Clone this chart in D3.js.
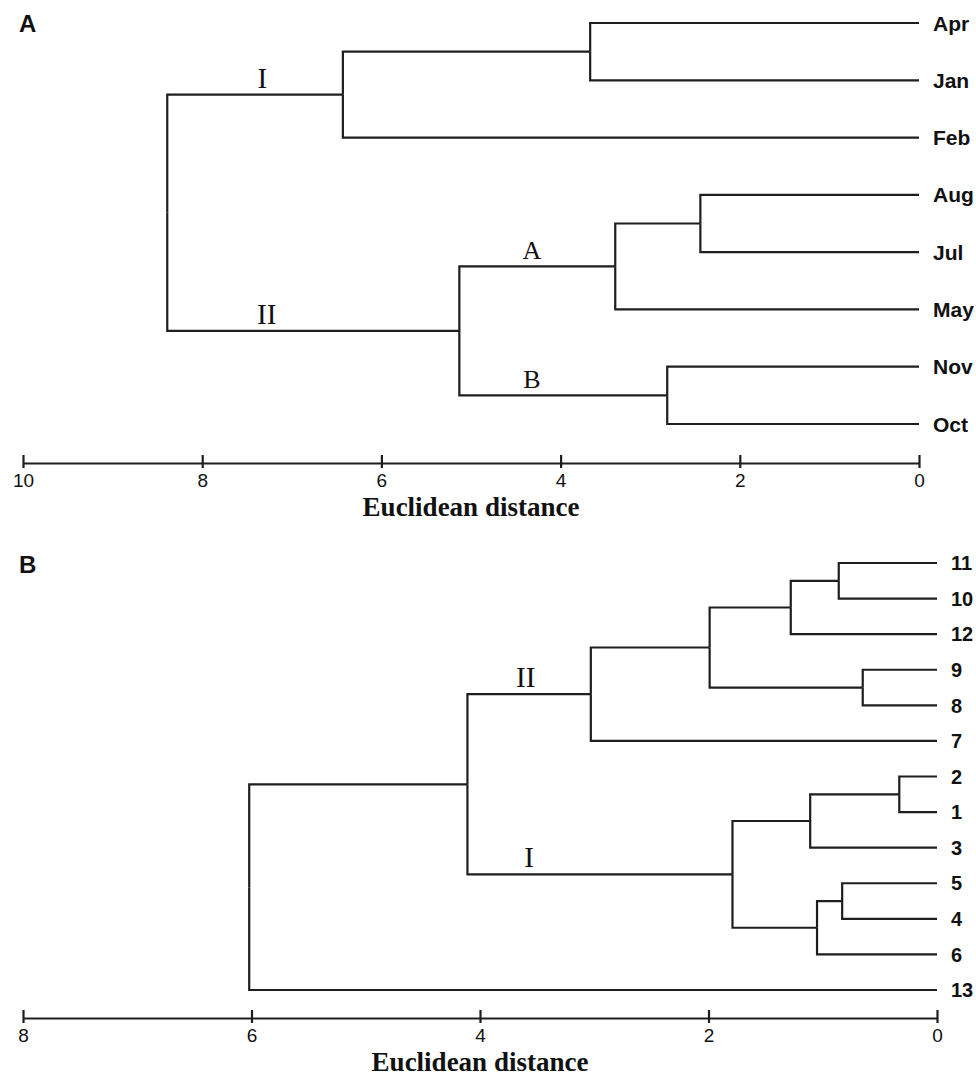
<!DOCTYPE html>
<html>
<head>
<meta charset="utf-8">
<script src="https://cdn.jsdelivr.net/npm/d3@7"></script>
<style>
	body { margin: 0; background: #fff; }
	svg { display: block; }
	.link { fill: none; stroke: #1e1e1e; stroke-width: 2.2; }
	.leaf { font-family: "Liberation Sans", Arial, sans-serif; font-weight: bold; fill: #111; }
	.panel { font-family: "Liberation Sans", Arial, sans-serif; font-weight: bold; font-size: 24px; fill: #111; }
	.group { font-family: "Liberation Serif", "Times New Roman", serif; fill: #111; }
	.xtitle { font-family: "Liberation Serif", "Times New Roman", serif; font-weight: bold; font-size: 27px; fill: #111; }
	.axis path, .axis line { stroke: #1e1e1e; stroke-width: 2.2; }
	.axis text { font-family: "Liberation Sans", Arial, sans-serif; font-size: 19px; fill: #111; }
</style>
</head>
<body>
<svg id="fig" width="976" height="1077"></svg>
<script>
// Panel A: months. Merges are [left, right, distance]; "cN" is the N-th merge.
var monthLeaves = ["Apr", "Jan", "Feb", "Aug", "Jul", "May", "Nov", "Oct"];
var monthMerges = [
	["Apr", "Jan", 3.67],
	["c0", "Feb", 6.43],
	["Aug", "Jul", 2.44],
	["c2", "May", 3.39],
	["Nov", "Oct", 2.81],
	["c3", "c4", 5.13],
	["c1", "c5", 8.39]
];
var monthGroups = [
	["I", "c1", 7.33],
	["II", "c5", 7.28],
	["A", "c3", 4.32],
	["B", "c4", 4.32]
];
var monthTicks = [10, 8, 6, 4, 2, 0];

// Panel B: sites
var siteLeaves = ["11", "10", "12", "9", "8", "7", "2", "1", "3", "5", "4", "6", "13"];
var siteMerges = [
	["11", "10", 0.86],
	["c0", "12", 1.28],
	["9", "8", 0.65],
	["c1", "c2", 1.99],
	["c3", "7", 3.03],
	["2", "1", 0.33],
	["c5", "3", 1.11],
	["5", "4", 0.83],
	["c7", "6", 1.05],
	["c6", "c8", 1.79],
	["c4", "c9", 4.11],
	["c10", "13", 6.02]
];
var siteGroups = [
	["II", "c4", 3.60],
	["I", "c9", 3.57]
];
var siteTicks = [8, 6, 4, 2, 0];

var xTitle = "Euclidean distance";

var svg = d3.select("#fig");

function buildTree(leaves, merges) {
	var nodes = {};
	leaves.forEach(function(name) {
		nodes[name] = { name: name, dist: 0 };
	});
	merges.forEach(function(m, i) {
		nodes["c" + i] = { name: "c" + i, dist: m[2], children: [nodes[m[0]], nodes[m[1]]] };
	});
	return d3.hierarchy(nodes["c" + (merges.length - 1)]);
}

function dendrogram(cfg) {
	var g = svg.append("g");
	var x = d3.scaleLinear().domain([cfg.ticks[0], 0]).range([cfg.left, cfg.right]);
	var y = d3.scalePoint().domain(cfg.leaves).range([cfg.top, cfg.bottom]);

	var root = buildTree(cfg.leaves, cfg.merges);
	root.eachAfter(function(n) {
		if (n.children) {
			n.py = d3.mean(n.children, function(c) { return c.py; });
		} else {
			n.py = y(n.data.name);
		}
		n.px = x(n.data.dist);
	});

	g.selectAll("path.link")
		.data(root.descendants().slice(1))
		.enter().append("path")
		.attr("class", "link")
		.attr("d", function(d) {
			return "M" + d.parent.px + "," + d.parent.py + "V" + d.py + "H" + d.px;
		});

	g.selectAll("text.leaf")
		.data(root.leaves())
		.enter().append("text")
		.attr("class", "leaf")
		.attr("x", cfg.right + 14)
		.attr("y", function(d) { return d.py; })
		.attr("dy", "0.36em")
		.style("font-size", cfg.leafSize + "px")
		.text(function(d) { return d.data.name; });

	var byName = {};
	root.descendants().forEach(function(n) { byName[n.data.name] = n; });
	g.selectAll("text.group")
		.data(cfg.groups)
		.enter().append("text")
		.attr("class", "group")
		.attr("text-anchor", "middle")
		.attr("x", function(d) { return x(d[2]); })
		.attr("y", function(d) { return byName[d[1]].py - 7; })
		.style("font-size", function(d) { return /^[IV]+$/.test(d[0]) ? "29px" : "26px"; })
		.text(function(d) { return d[0]; });

	var axis = g.append("g")
		.attr("class", "axis")
		.attr("transform", "translate(0," + cfg.axisY + ")")
		.call(d3.axisBottom(x).tickValues(cfg.ticks).tickSizeInner(5).tickSizeOuter(0).tickFormat(d3.format("d")));
	axis.selectAll(".tick line").attr("y1", -8);
	axis.selectAll(".tick text").attr("y", 11);

	g.append("text")
		.attr("class", "xtitle")
		.attr("text-anchor", "middle")
		.attr("x", (cfg.left + cfg.right) / 2)
		.attr("y", cfg.titleY)
		.text(xTitle);

	g.append("text")
		.attr("class", "panel")
		.attr("x", 19)
		.attr("y", cfg.panelY)
		.text(cfg.panel);
}

dendrogram({
	panel: "A", panelY: 32,
	leaves: monthLeaves, merges: monthMerges, groups: monthGroups, ticks: monthTicks,
	left: 23, right: 919, top: 23, bottom: 424, axisY: 463, titleY: 516, leafSize: 21
});

dendrogram({
	panel: "B", panelY: 573,
	leaves: siteLeaves, merges: siteMerges, groups: siteGroups, ticks: siteTicks,
	left: 23, right: 937, top: 563, bottom: 990, axisY: 1018, titleY: 1071, leafSize: 20
});
</script>
</body>
</html>
